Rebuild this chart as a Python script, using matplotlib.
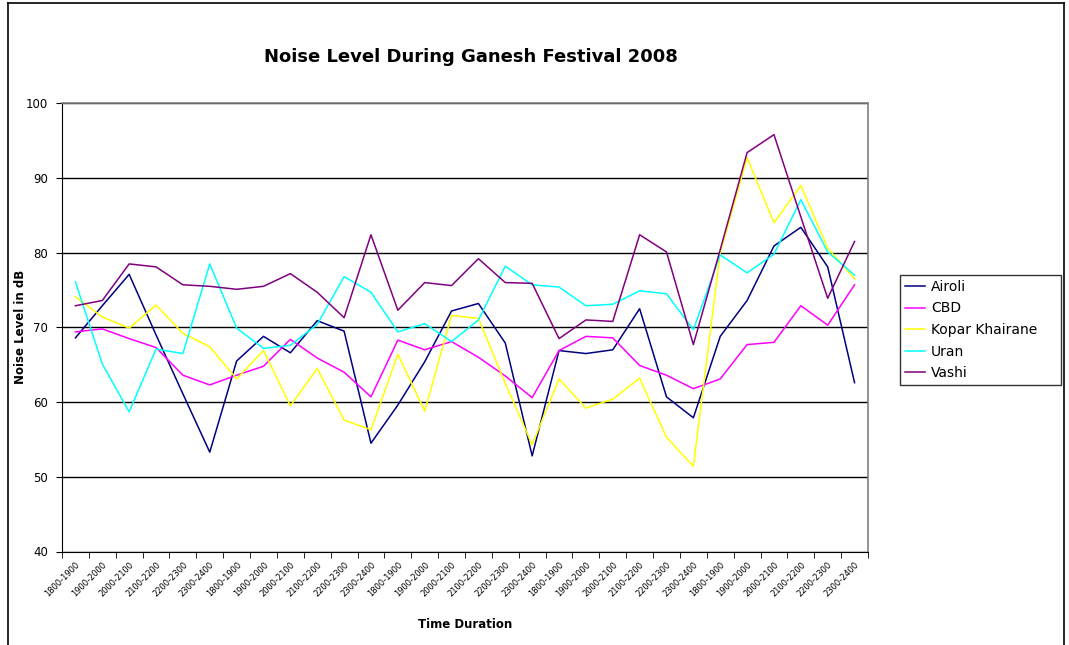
import matplotlib
matplotlib.use("Agg")
import matplotlib.pyplot as plt
import numpy as np

slots = ["1800-1900", "1900-2000", "2000-2100", "2100-2200", "2200-2300", "2300-2400"]
days = 5
time_labels = slots * days

airoli = [68.6, 72.9, 77.1, 69.0, 61.1, 53.3, 65.5, 68.8, 66.6, 70.9,
          69.5, 54.5, 59.6, 65.4, 72.2, 73.2, 67.9, 52.8, 66.9, 66.5,
          67.0, 72.5, 60.7, 57.9, 68.8, 73.6, 80.9, 83.4, 78.1, 62.6]
cbd = [69.4, 69.8, 68.5, 67.3, 63.6, 62.3, 63.6, 64.8, 68.4, 65.9,
       64.0, 60.7, 68.3, 67.0, 68.1, 66.0, 63.5, 60.6, 66.9, 68.8,
       68.6, 64.9, 63.6, 61.8, 63.1, 67.7, 68.0, 72.9, 70.3, 75.7]
kopar = [74.1, 71.4, 69.9, 73.0, 69.2, 67.4, 63.1, 66.9, 59.5, 64.5,
         57.6, 56.3, 66.4, 58.8, 71.6, 71.2, 62.5, 54.3, 63.1, 59.2,
         60.4, 63.2, 55.3, 51.4, 80.0, 92.7, 84.0, 89.0, 80.6, 76.5]
uran = [76.1, 65.1, 58.7, 67.1, 66.5, 78.5, 69.9, 67.2, 67.6, 70.4,
        76.8, 74.7, 69.4, 70.5, 68.1, 71.0, 78.2, 75.7, 75.4, 72.9,
        73.1, 74.9, 74.5, 69.7, 79.7, 77.3, 79.8, 87.1, 80.1, 77.0]
vashi = [72.9, 73.6, 78.5, 78.1, 75.7, 75.5, 75.1, 75.5, 77.2, 74.7,
         71.3, 82.4, 72.3, 76.0, 75.6, 79.2, 76.0, 75.9, 68.5, 71.0,
         70.8, 82.4, 80.1, 67.7, 80.4, 93.4, 95.8, 84.8, 73.9, 81.5]

series_names = ["Airoli", "CBD", "Kopar Khairane", "Uran", "Vashi"]
series_data = [airoli, cbd, kopar, uran, vashi]
colors = ["#000080", "#FF00FF", "#FFFF00", "#00FFFF", "#800080"]

W, H = 1069, 645
fig = plt.figure(figsize=(W / 100, H / 100), dpi=100)
fig.patch.set_facecolor("white")

# outer chart border (top, left, right)
fig.add_artist(plt.Line2D([8 / W, 8 / W], [0, 1 - 3 / H], color="black", lw=1.2, transform=fig.transFigure))
fig.add_artist(plt.Line2D([8 / W, 1064 / W], [1 - 3 / H, 1 - 3 / H], color="black", lw=1.2, transform=fig.transFigure))
fig.add_artist(plt.Line2D([1064 / W, 1064 / W], [0, 1 - 3 / H], color="black", lw=1.2, transform=fig.transFigure))

left, right, top, bottom = 62, 868, 103.3, 551.5
ax = fig.add_axes([left / W, 1 - bottom / H, (right - left) / W, (bottom - top) / H])

x = np.arange(len(time_labels))
lines = []
for name, data, c in zip(series_names, series_data, colors):
    ln, = ax.plot(x, data, color=c, lw=1.1, label=name)
    lines.append(ln)

ax.set_xlim(-0.5, len(time_labels) - 0.5)
ax.set_ylim(40, 100)
ax.set_yticks(np.arange(40, 101, 10))
ax.yaxis.grid(True, color="black", lw=1)
ax.set_axisbelow(True)

ax.set_xticks(x)
ax.set_xticklabels(time_labels, rotation=45, ha="right", va="top", fontsize=6,
                   rotation_mode="anchor")
ax.set_xticks(np.arange(-0.5, len(time_labels), 1), minor=True)
ax.tick_params(axis="x", which="major", length=0, pad=6)
ax.tick_params(axis="x", which="minor", length=4, direction="out", color="black")
ax.tick_params(axis="y", length=4, direction="out", labelsize=8.5, pad=6)

for s in ["top", "right"]:
    ax.spines[s].set_color("#808080")
    ax.spines[s].set_linewidth(1.2)
ax.spines["left"].set_color("black")
ax.spines["bottom"].set_color("black")

fig.text(471 / W, 1 - 57 / H, "Noise Level During Ganesh Festival 2008", ha="center", va="center",
         fontsize=13, fontweight="bold")
fig.text(465 / W, 1 - 624 / H, "Time Duration", ha="center", va="center", fontsize=8.5, fontweight="bold")
fig.text(21 / W, 1 - 327 / H, "Noise Level in dB", ha="center", va="center", fontsize=8.5,
         fontweight="bold", rotation=90)

leg = fig.legend(handles=lines, loc="upper left",
                 bbox_to_anchor=(900 / W, 1 - 275 / H, 161 / W, 0.0001), mode="expand",
                 frameon=True, fancybox=False, edgecolor="black", fontsize=10,
                 handlelength=1.45, handletextpad=0.45, borderpad=0.35, labelspacing=0.55,
                 borderaxespad=0)
leg.get_frame().set_linewidth(1.0)

fig.savefig("out.png", dpi=100, facecolor="white")
